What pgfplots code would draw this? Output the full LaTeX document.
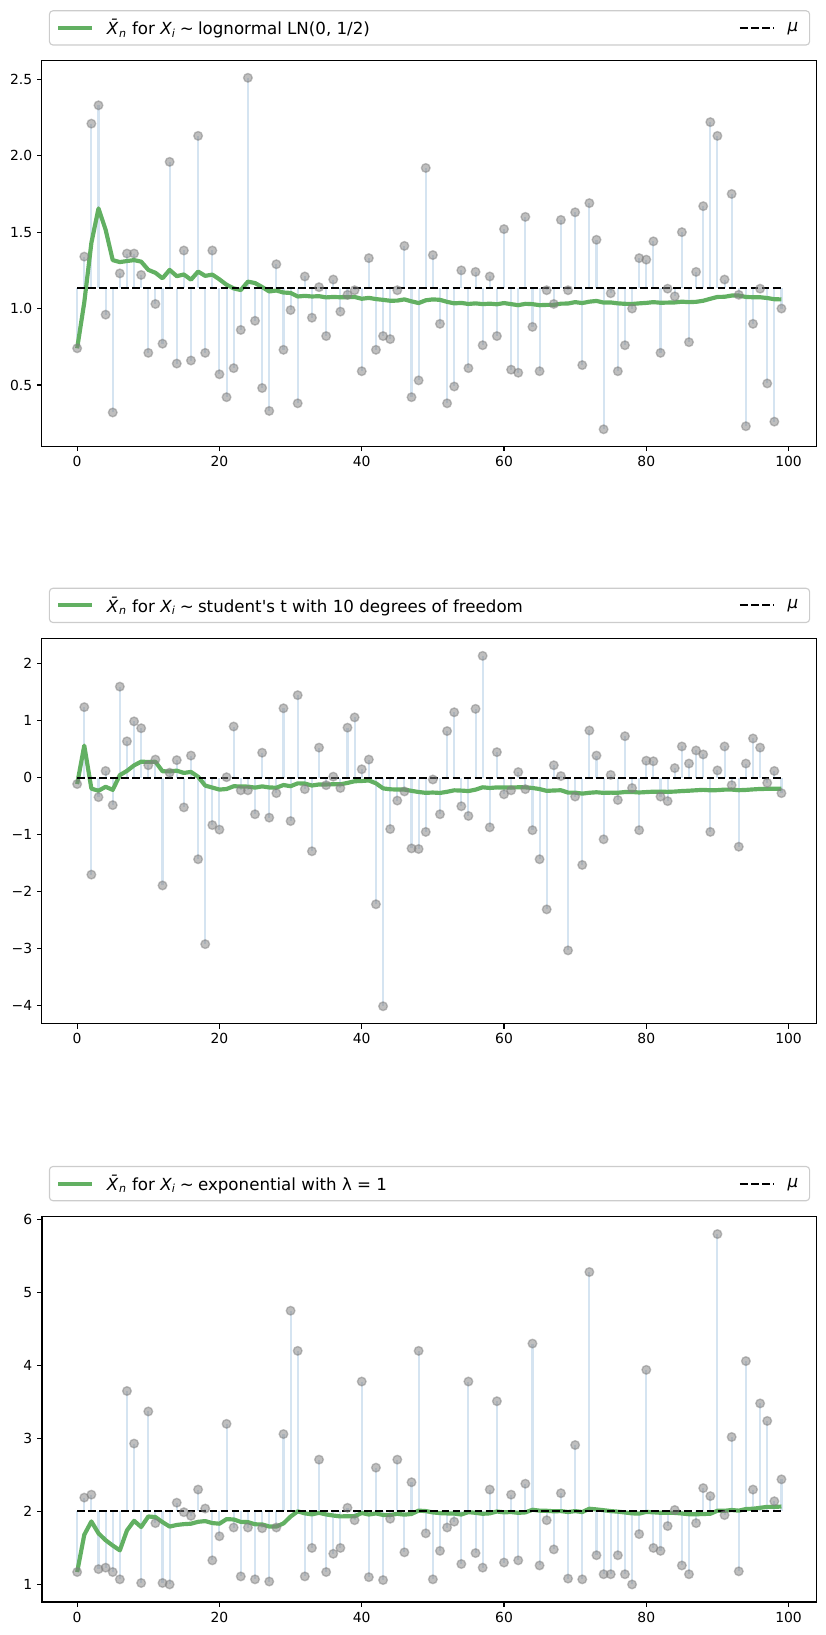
\documentclass[border=0pt]{standalone}
\usepackage{fontspec}
\setmainfont{DejaVu Sans}[Ligatures=TeXOff]
\usepackage{pgfplots}
\pgfplotsset{compat=1.18}
\usepackage{pgfplotstable}

\definecolor{meangreen}{RGB}{98,176,98}
\definecolor{stemblue}{RGB}{213,228,241}
\definecolor{legframe}{RGB}{204,204,204}

\pgfplotstableread{
x y m
0 0.74 0.740
1 1.34 1.040
2 2.21 1.430
3 2.33 1.655
4 0.96 1.516
5 0.32 1.317
6 1.23 1.304
7 1.36 1.311
8 1.36 1.317
9 1.22 1.307
10 0.71 1.253
11 1.03 1.234
12 0.77 1.198
13 1.96 1.253
14 0.64 1.212
15 1.38 1.223
16 0.66 1.189
17 2.13 1.242
18 0.71 1.214
19 1.38 1.222
20 0.57 1.191
21 0.42 1.156
22 0.61 1.132
23 0.86 1.121
24 2.51 1.176
25 0.92 1.167
26 0.48 1.141
27 0.33 1.112
28 1.29 1.118
29 0.73 1.105
30 0.99 1.102
31 0.38 1.079
32 1.21 1.083
33 0.94 1.079
34 1.14 1.081
35 0.82 1.073
36 1.19 1.076
37 0.98 1.074
38 1.09 1.074
39 1.12 1.076
40 0.59 1.064
41 1.33 1.070
42 0.73 1.062
43 0.82 1.057
44 0.80 1.051
45 1.12 1.052
46 1.41 1.060
47 0.42 1.047
48 0.53 1.036
49 1.92 1.054
50 1.35 1.060
51 0.90 1.057
52 0.38 1.044
53 0.49 1.034
54 1.25 1.037
55 0.61 1.030
56 1.24 1.034
57 0.76 1.029
58 1.21 1.032
59 0.82 1.028
60 1.52 1.036
61 0.60 1.029
62 0.58 1.022
63 1.60 1.031
64 0.88 1.029
65 0.59 1.022
66 1.12 1.024
67 1.03 1.024
68 1.58 1.032
69 1.12 1.033
70 1.63 1.042
71 0.63 1.036
72 1.69 1.045
73 1.45 1.050
74 0.21 1.039
75 1.10 1.040
76 0.59 1.034
77 0.76 1.031
78 1.00 1.030
79 1.33 1.034
80 1.32 1.037
81 1.44 1.042
82 0.71 1.038
83 1.13 1.039
84 1.08 1.040
85 1.50 1.045
86 0.78 1.042
87 1.24 1.044
88 1.67 1.051
89 2.22 1.064
90 2.13 1.076
91 1.19 1.077
92 1.75 1.085
93 1.09 1.085
94 0.23 1.076
95 0.90 1.074
96 1.13 1.074
97 0.51 1.069
98 0.26 1.061
99 1.00 1.060
}\dataA

\pgfplotstableread{
x y m
0 -0.11 -0.110
1 1.24 0.565
2 -1.70 -0.190
3 -0.34 -0.228
4 0.12 -0.158
5 -0.48 -0.212
6 1.60 0.047
7 0.64 0.121
8 0.99 0.218
9 0.87 0.283
10 0.22 0.277
11 0.32 0.281
12 -1.89 0.114
13 0.09 0.112
14 0.31 0.125
15 -0.52 0.085
16 0.39 0.103
17 -1.43 0.018
18 -2.92 -0.137
19 -0.83 -0.172
20 -0.91 -0.207
21 0.01 -0.197
22 0.90 -0.149
23 -0.22 -0.152
24 -0.22 -0.155
25 -0.64 -0.173
26 0.44 -0.151
27 -0.70 -0.170
28 -0.27 -0.174
29 1.22 -0.127
30 -0.76 -0.148
31 1.45 -0.098
32 -0.20 -0.101
33 -1.29 -0.136
34 0.53 -0.117
35 -0.13 -0.117
36 0.02 -0.114
37 -0.18 -0.115
38 0.88 -0.090
39 1.06 -0.061
40 0.15 -0.056
41 0.32 -0.047
42 -2.22 -0.097
43 -4.01 -0.186
44 -0.90 -0.202
45 -0.40 -0.207
46 -0.24 -0.207
47 -1.24 -0.229
48 -1.25 -0.250
49 -0.95 -0.264
50 -0.03 -0.259
51 -0.64 -0.266
52 0.82 -0.246
53 1.15 -0.220
54 -0.50 -0.225
55 -0.67 -0.233
56 1.21 -0.208
57 2.14 -0.167
58 -0.87 -0.179
59 0.45 -0.169
60 -0.29 -0.171
61 -0.22 -0.171
62 0.10 -0.167
63 -0.20 -0.168
64 -0.92 -0.179
65 -1.43 -0.198
66 -2.31 -0.230
67 0.22 -0.223
68 0.03 -0.219
69 -3.03 -0.260
70 -0.33 -0.261
71 -1.53 -0.278
72 0.83 -0.263
73 0.39 -0.254
74 -1.08 -0.265
75 0.05 -0.261
76 -0.39 -0.263
77 0.73 -0.250
78 -0.18 -0.249
79 -0.92 -0.258
80 0.30 -0.251
81 0.29 -0.244
82 -0.33 -0.245
83 -0.41 -0.247
84 0.17 -0.242
85 0.55 -0.233
86 0.25 -0.227
87 0.48 -0.219
88 0.41 -0.212
89 -0.95 -0.220
90 0.13 -0.217
91 0.55 -0.208
92 -0.13 -0.207
93 -1.21 -0.218
94 0.25 -0.213
95 0.69 -0.204
96 0.53 -0.196
97 -0.09 -0.195
98 0.12 -0.192
99 -0.27 -0.193
}\dataB

\pgfplotstableread{
x y m
0 1.17 1.170
1 2.19 1.680
2 2.23 1.863
3 1.21 1.700
4 1.23 1.606
5 1.17 1.533
6 1.07 1.467
7 3.65 1.740
8 2.93 1.872
9 1.02 1.787
10 3.37 1.931
11 1.84 1.923
12 1.02 1.854
13 1.00 1.793
14 2.12 1.815
15 1.99 1.826
16 1.94 1.832
17 2.30 1.858
18 2.04 1.868
19 1.33 1.841
20 1.66 1.832
21 3.20 1.895
22 1.78 1.890
23 1.11 1.857
24 1.78 1.854
25 1.07 1.824
26 1.77 1.822
27 1.04 1.794
28 1.78 1.793
29 3.06 1.836
30 4.75 1.930
31 4.20 2.001
32 1.11 1.974
33 1.50 1.960
34 2.71 1.981
35 1.17 1.959
36 1.42 1.944
37 1.50 1.932
38 2.05 1.935
39 1.88 1.934
40 3.78 1.979
41 1.10 1.958
42 2.60 1.973
43 1.06 1.952
44 1.90 1.951
45 2.71 1.968
46 1.44 1.956
47 2.40 1.966
48 4.20 2.011
49 1.70 2.005
50 1.07 1.987
51 1.46 1.977
52 1.78 1.973
53 1.86 1.971
54 1.28 1.958
55 3.78 1.991
56 1.43 1.981
57 1.23 1.968
58 2.30 1.974
59 3.51 1.999
60 1.30 1.988
61 2.23 1.992
62 1.33 1.981
63 2.38 1.987
64 4.30 2.023
65 1.26 2.011
66 1.88 2.009
67 1.48 2.002
68 2.25 2.005
69 1.08 1.992
70 2.91 2.005
71 1.07 1.992
72 5.28 2.037
73 1.40 2.028
74 1.14 2.017
75 1.14 2.005
76 1.40 1.997
77 1.14 1.986
78 1.00 1.974
79 1.69 1.970
80 3.94 1.994
81 1.50 1.988
82 1.46 1.982
83 1.80 1.980
84 2.02 1.980
85 1.26 1.972
86 1.14 1.962
87 1.84 1.961
88 2.32 1.965
89 2.21 1.968
90 5.80 2.010
91 1.95 2.009
92 3.02 2.020
93 1.18 2.011
94 4.06 2.033
95 2.30 2.037
96 3.48 2.050
97 3.24 2.063
98 2.14 2.063
99 2.44 2.067
}\dataC

\pgfplotsset{
  panel/.style={
    scale only axis, width=557.8pt, height=277.5pt,
    xmin=-4.95, xmax=103.95,
    axis line style={line width=0.8pt},
    tick align=outside, tick pos=left,
    major tick length=3.5pt,
    every tick/.style={black, line width=0.8pt},
    xtick={0,20,40,60,80,100},
    xticklabels={0,20,40,60,80,100},
    tick label style={font=\fontsize{10}{12}\selectfont},
    legend columns=2,
    legend style={at={(0,1)}, anchor=south west, xshift=5pt, yshift=11pt,
      draw=legframe, line width=0.8pt, rounded corners=2.5pt, fill=white,
      inner xsep=4.8pt, inner ysep=6pt,
      font=\fontsize{12}{14.4}\selectfont,
      column sep=0pt, nodes={inner sep=0pt}},
    legend image code/.code={\draw[#1, rounded corners=0pt] (0pt,0pt) -- (24pt,0pt);},
  },
  stems/.style={forget plot, stemblue, line width=1.5pt},
  pts/.style={forget plot, only marks, mark=*, mark size=3.1pt,
    mark options={fill=gray, draw=gray, fill opacity=0.5, draw opacity=0.5, line width=1pt}},
  runmean/.style={meangreen, line width=3pt, line join=round},
  mualine/.style={black, line width=1.5pt, dash pattern=on 5.55pt off 2.4pt},
}

\newcommand{\xbar}{\textit{\={X}}\textsubscript{\textit{n}} for \textit{X}\textsubscript{\textit{i}}\hspace{0.25em}∼\hspace{0.25em}}
\newcommand{\mulabel}{\hspace{9.6pt}\makebox[11pt][l]{\textit{μ}}}

\begin{document}
\begin{tikzpicture}
\useasboundingbox (0,0) rectangle (594.7pt,-1177.2pt);

% Panel 1
\begin{axis}[panel, at={(30.2pt,-43.8pt)}, anchor=north west,
  ymin=0.099, ymax=2.621,
  ytick={0.5,1,1.5,2,2.5}, yticklabels={0.5,1.0,1.5,2.0,2.5}]
\addplot[stems, quiver={u=0, v={1.133-\thisrow{y}}}] table[x=x, y=y] {\dataA};
\addplot[pts] table[x=x, y=y] {\dataA};
\addplot[runmean] table[x=x, y=m] {\dataA};
\addlegendentry{\hspace{9.6pt}\makebox[455pt][l]{\xbar lognormal LN(0, 1/2)}}
\addplot[mualine] coordinates {(0,1.133) (99,1.133)};
\addlegendentry{\mulabel}
\end{axis}

% Panel 2
\begin{axis}[panel, at={(30.2pt,-459.6pt)}, anchor=north west,
  ymin=-4.3175, ymax=2.4475,
  ytick={-4,-3,-2,-1,0,1,2}, yticklabels={−4,−3,−2,−1,0,1,2}]
\addplot[stems, quiver={u=0, v={0-\thisrow{y}}}] table[x=x, y=y] {\dataB};
\addplot[pts] table[x=x, y=y] {\dataB};
\addplot[runmean] table[x=x, y=m] {\dataB};
\addlegendentry{\hspace{9.6pt}\makebox[455pt][l]{\xbar student's t with 10 degrees of freedom}}
\addplot[mualine] coordinates {(0,0) (99,0)};
\addlegendentry{\mulabel}
\end{axis}

% Panel 3
\begin{axis}[panel, at={(30.2pt,-875.9pt)}, anchor=north west,
  ymin=0.76, ymax=6.04,
  ytick={1,2,3,4,5,6}, yticklabels={1,2,3,4,5,6}]
\addplot[stems, quiver={u=0, v={2-\thisrow{y}}}] table[x=x, y=y] {\dataC};
\addplot[pts] table[x=x, y=y] {\dataC};
\addplot[runmean] table[x=x, y=m] {\dataC};
\addlegendentry{\hspace{9.6pt}\makebox[455pt][l]{\xbar exponential with λ = 1}}
\addplot[mualine] coordinates {(0,2) (99,2)};
\addlegendentry{\mulabel}
\end{axis}
\end{tikzpicture}
\end{document}
